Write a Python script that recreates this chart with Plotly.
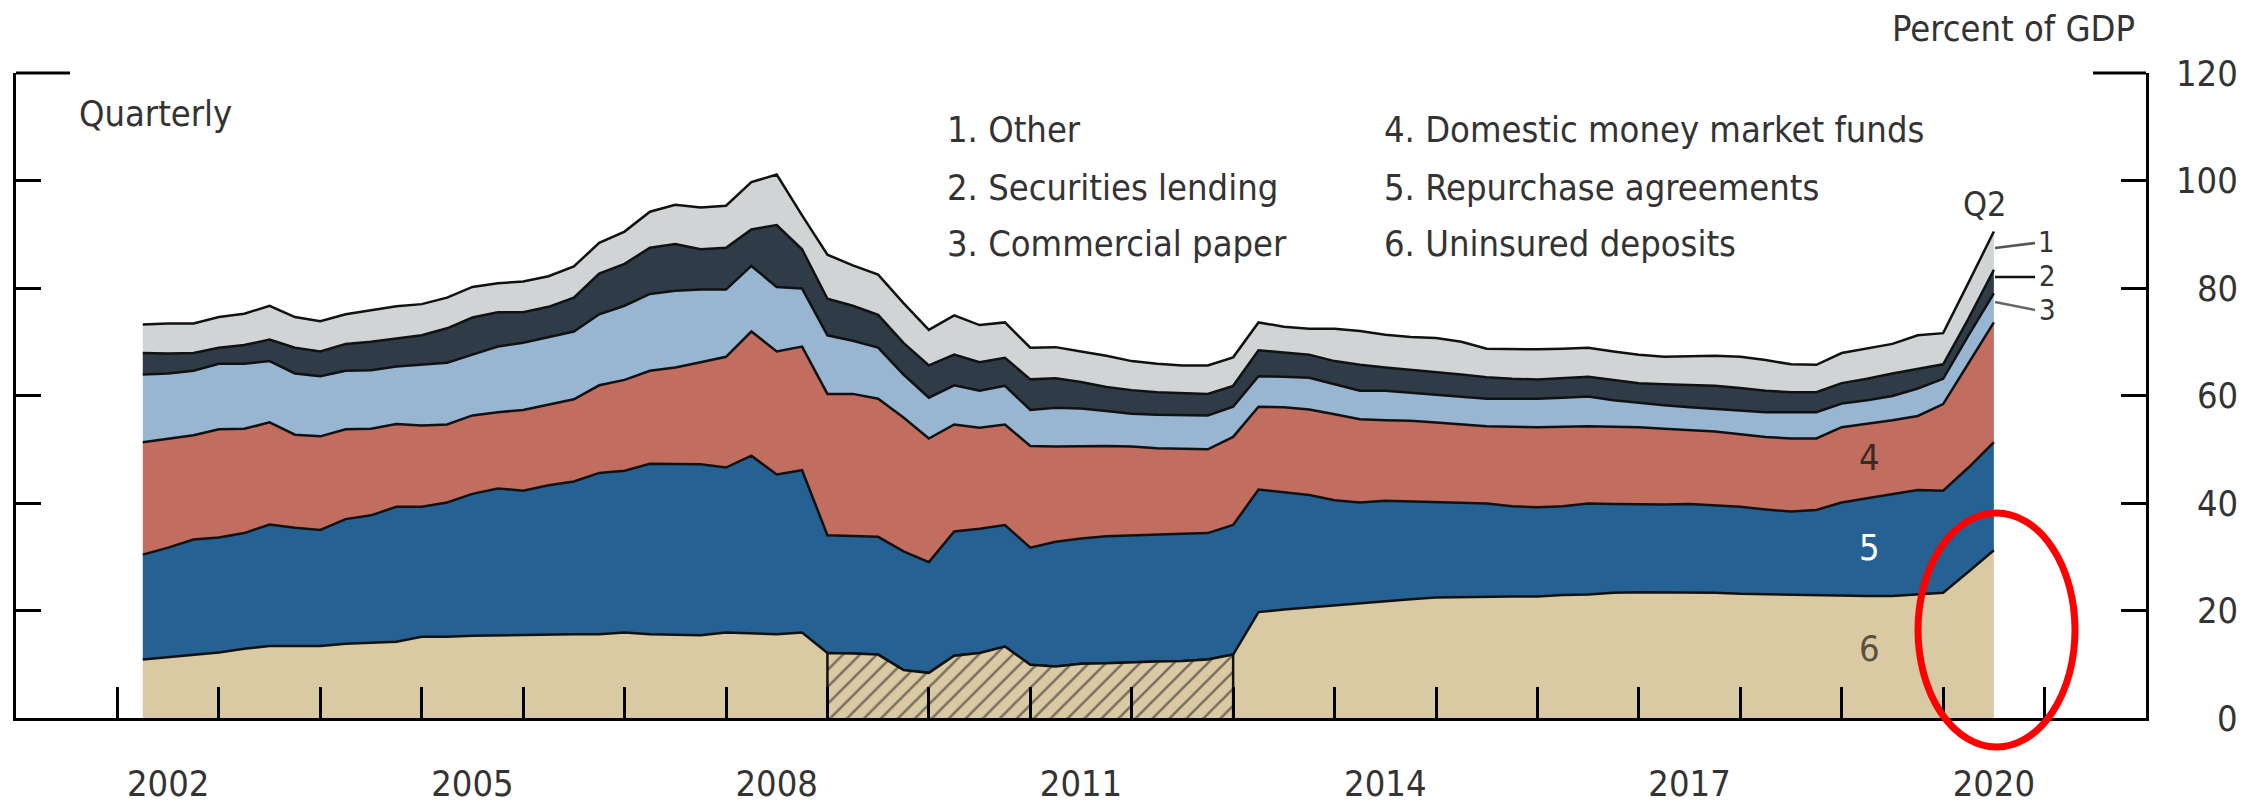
import numpy as np
import plotly.graph_objects as go

# ---------------- data (percent of GDP, quarterly, 2002Q1 - 2020Q2) ----------------
quarters = [f"{y}Q{q}" for y in range(2002, 2021) for q in range(1, 5)][:74]

uninsured_deposits = [10.9, 11.3, 11.8, 12.2, 12.9, 13.4, 13.4, 13.4, 13.8, 14.0, 14.2, 15.1, 15.1, 15.3,
                      15.4, 15.4, 15.5, 15.6, 15.6, 15.9, 15.6, 15.5, 15.4, 15.9, 15.8, 15.6, 15.9, 12.1,
                      12.0, 11.8, 8.9, 8.4, 11.6, 12.1, 13.3, 9.9, 9.6, 10.1, 10.2, 10.4, 10.5, 10.6,
                      10.9, 11.8, 19.7, 20.2, 20.6, 21.0, 21.3, 21.7, 22.1, 22.4, 22.5, 22.5, 22.6, 22.6,
                      22.9, 23.0, 23.3, 23.4, 23.4, 23.4, 23.3, 23.1, 23.0, 22.9, 22.8, 22.7, 22.7, 22.7,
                      23.0, 23.3, 27.2, 31.2]
repurchase_agreements = [19.5, 20.4, 21.4, 21.4, 21.5, 22.6, 22.0, 21.6, 23.2, 23.7, 25.1, 24.2, 25.0, 26.4,
                         27.3, 26.9, 27.8, 28.4, 30.0, 30.1, 31.7, 31.8, 31.8, 30.7, 33.0, 29.7, 30.2, 21.9,
                         21.9, 21.9, 22.1, 20.6, 23.1, 23.1, 22.6, 21.8, 23.2, 23.3, 23.6, 23.6, 23.7, 23.7,
                         23.5, 24.1, 22.8, 21.8, 20.9, 19.5, 18.8, 18.7, 18.2, 17.7, 17.5, 17.4, 16.8, 16.6,
                         16.5, 16.9, 16.5, 16.3, 16.3, 16.4, 16.3, 16.2, 15.8, 15.5, 15.9, 17.4, 18.2, 18.9,
                         19.4, 19.0, 19.4, 20.1]
money_market_funds = [20.9, 20.2, 19.4, 20.1, 19.4, 19.0, 17.3, 17.4, 16.7, 16.1, 15.4, 15.1, 14.5, 14.6,
                      14.2, 15.0, 15.0, 15.3, 16.3, 16.9, 17.3, 17.9, 19.0, 20.6, 23.1, 22.9, 23.0, 26.3,
                      26.4, 25.7, 24.9, 23.0, 19.9, 18.8, 18.7, 18.9, 17.7, 17.2, 16.8, 16.5, 16.0, 15.8,
                      15.6, 16.4, 15.4, 15.8, 15.9, 16.0, 15.5, 15.0, 15.0, 14.9, 14.6, 14.4, 14.8, 14.9,
                      14.8, 14.4, 14.4, 14.4, 14.1, 13.8, 13.7, 13.5, 13.5, 13.6, 13.3, 14.0, 13.8, 13.8,
                      13.8, 16.1, 19.4, 22.3]
commercial_paper = [12.6, 12.2, 12.0, 12.2, 12.1, 11.4, 11.4, 11.2, 10.9, 10.9, 10.7, 11.4, 11.5, 11.3,
                    12.2, 12.5, 12.6, 12.6, 13.2, 13.8, 14.3, 14.3, 13.5, 12.5, 12.2, 12.0, 10.8, 10.9,
                    9.9, 9.5, 8.0, 7.6, 7.3, 6.9, 7.2, 6.7, 7.2, 7.0, 6.5, 6.1, 6.2, 6.2,
                    6.3, 5.6, 5.7, 5.7, 5.9, 5.6, 5.3, 5.5, 5.2, 5.1, 5.1, 5.1, 5.2, 5.3,
                    5.4, 5.5, 4.9, 4.5, 4.4, 4.2, 4.2, 4.3, 4.6, 4.9, 4.9, 4.4, 4.4, 4.5,
                    5.1, 4.7, 5.2, 5.4]
securities_lending = [4.0, 3.7, 3.3, 3.0, 3.5, 4.0, 4.8, 4.6, 5.0, 5.3, 5.2, 5.4, 6.4, 6.9,
                      6.4, 5.7, 5.6, 6.3, 7.6, 7.8, 8.6, 8.7, 7.5, 7.8, 6.8, 11.5, 7.3, 6.8,
                      6.5, 6.1, 5.9, 6.0, 5.7, 5.3, 5.2, 5.7, 5.5, 4.9, 4.5, 4.4, 4.2, 4.1,
                      4.0, 3.9, 4.8, 4.5, 4.3, 4.3, 4.8, 4.3, 4.3, 4.3, 4.2, 4.0, 3.7, 3.6,
                      3.7, 3.7, 3.8, 3.7, 3.9, 4.2, 4.3, 4.3, 4.0, 3.7, 3.7, 3.8, 4.0, 4.2,
                      3.6, 2.7, 3.1, 4.4]
other = [5.3, 5.6, 5.5, 5.7, 5.8, 6.3, 5.7, 5.6, 5.5, 5.9, 6.0, 5.8, 5.7, 5.7,
         5.4, 5.7, 5.7, 5.8, 5.7, 6.0, 6.7, 7.3, 7.8, 7.8, 8.8, 9.4, 6.3, 8.2,
         7.5, 7.5, 7.4, 6.6, 7.3, 6.9, 6.6, 5.9, 5.8, 5.7, 5.8, 5.4, 5.3, 5.2,
         5.3, 5.3, 5.2, 4.8, 4.8, 6.0, 6.3, 6.1, 6.1, 6.3, 6.1, 5.3, 5.5, 5.6,
         5.4, 5.4, 5.3, 5.3, 5.1, 5.3, 5.6, 5.8, 5.7, 5.2, 5.1, 5.6, 5.6, 5.5,
         6.3, 5.8, 6.7, 7.1]

insured_period = ("2008Q4", "2012Q4")   # uninsured deposits shown hatched
year_ticks = list(range(2002, 2022))
year_labels = ["2002", "2005", "2008", "2011", "2014", "2017", "2020"]
y_ticks = [0, 20, 40, 60, 80, 100, 120]

series = [
    ("6. Uninsured deposits", uninsured_deposits, "#DACAA3"),
    ("5. Repurchase agreements", repurchase_agreements, "#256293"),
    ("4. Domestic money market funds", money_market_funds, "#C16D5F"),
    ("3. Commercial paper", commercial_paper, "#98B5D2"),
    ("2. Securities lending", securities_lending, "#2F3C47"),
    ("1. Other", other, "#D1D4D5"),
]

# ---------------- geometry helpers ----------------
W, H = 2265, 806
ML, MR, MT, MB = 16, 119, 73, 88
PW, PH = W - ML - MR, H - MT - MB


def px(x):
    return (x - ML) / PW


def py(y):
    return (H - MB - y) / PH


FONT = "DejaVu Sans Condensed, Liberation Sans Narrow, Liberation Sans, Arial, sans-serif"
TXT = "#333333"
FS = 36

x = np.array([int(q[:4]) + int(q[-1]) / 4 for q in quarters])

fig = go.Figure()
cum = np.zeros(len(x))
for i, (name, vals, color) in enumerate(series):
    cum = cum + np.array(vals)
    fig.add_trace(go.Scatter(
        x=x, y=cum.copy(), mode="lines", name=name,
        line=dict(color="#111111", width=2.5),
        fill="tozeroy" if i == 0 else "tonexty", fillcolor=color,
        showlegend=False, hoverinfo="skip",
    ))

# hatched (temporarily insured) part of uninsured deposits
i0, i1 = quarters.index(insured_period[0]), quarters.index(insured_period[1])
dep = np.array(uninsured_deposits)
hx = np.concatenate([[x[i0]], x[i0:i1 + 1], [x[i1]]])
hy = np.concatenate([[0], dep[i0:i1 + 1], [0]])
fig.add_trace(go.Scatter(
    x=hx, y=hy, mode="lines", fill="toself", fillcolor="#DACAA3",
    fillpattern=dict(shape="/", fgcolor="#1a1a1a", bgcolor="#DACAA3", size=12, solidity=0.22),
    line=dict(color="#111111", width=2.5), showlegend=False, hoverinfo="skip",
))

# invisible trace for the label axis
fig.add_trace(go.Scatter(x=[2001, 2022], y=[0, 0], xaxis="x2", mode="lines",
                         line=dict(width=0), showlegend=False, hoverinfo="skip"))

fig.update_layout(
    width=W, height=H,
    margin=dict(l=ML, r=MR, t=MT, b=MB, autoexpand=False),
    paper_bgcolor="white", plot_bgcolor="white",
    font=dict(family=FONT, size=FS, color=TXT),
    xaxis=dict(range=[2001, 2022], tickvals=year_ticks, showticklabels=False,
               ticks="inside", ticklen=31, tickwidth=2.5, tickcolor="black",
               showline=True, linecolor="black", linewidth=3, automargin=False,
               showgrid=False, zeroline=False),
    xaxis2=dict(range=[2001, 2022], overlaying="x", anchor="y", side="bottom",
                tickvals=[int(t) + 0.5 for t in year_labels], ticktext=year_labels,
                ticks="", showline=False, showgrid=False, zeroline=False, automargin=False,
                tickfont=dict(family=FONT, size=FS, color=TXT), ticklabelstandoff=41),
    yaxis=dict(range=[0, 120], side="right", tickvals=y_ticks, showticklabels=False,
               ticks="inside", ticklen=25, tickwidth=3, tickcolor="black",
               showline=True, linecolor="black", linewidth=3, mirror="ticks",
               automargin=False, showgrid=False, zeroline=False),
)

# right-aligned value labels for the y axis ticks
for v in y_ticks:
    fig.add_annotation(text=str(v), xref="paper", yref="y", x=px(2240), y=v,
                       xanchor="right", yanchor="middle", showarrow=False,
                       font=dict(family=FONT, size=FS, color=TXT))

# longer corner ticks at 120
for x0, x1 in [(px(16), px(70)), (px(2093), px(2146))]:
    fig.add_shape(type="line", xref="paper", yref="paper", x0=x0, x1=x1, y0=1, y1=1,
                  line=dict(color="black", width=3))

# leader lines for small series
for (xa, ya, xb, yb, c) in [(1995, 248, 2035, 243, "#555555"),
                            (1995, 277, 2035, 277, "#111111"),
                            (1995, 302, 2035, 310, "#666666")]:
    fig.add_shape(type="line", xref="paper", yref="paper", x0=px(xa), y0=py(ya), x1=px(xb), y1=py(yb),
                  line=dict(color=c, width=2.5))

# red highlight ellipse
fig.add_shape(type="circle", xref="paper", yref="paper", x0=px(1918), x1=px(2075),
              y0=py(747), y1=py(513), line=dict(color="#FF0000", width=7))


def note(text, xx, yy, anchor="left", color=TXT, size=FS):
    fig.add_annotation(text=text, xref="paper", yref="paper", x=px(xx), y=py(yy),
                       xanchor=anchor, yanchor="middle", showarrow=False,
                       font=dict(family=FONT, size=size, color=color))


note("Quarterly", 77, 114)
note("Percent of GDP", 2137, 28, anchor="right")
legend_pos = [(945, 130), (945, 187), (945, 243), (1382, 130), (1382, 187), (1382, 243)]
for (name, _, _), (lx, ly) in zip(series[::-1], legend_pos):
    note(name, lx, ly)
note("Q2", 1985, 204, anchor="center", size=34)
note("1", 2046, 242, anchor="center", size=29)
note("2", 2047, 276, anchor="center", size=29)
note("3", 2047, 310, anchor="center", size=29)
note("4", 1869, 458, anchor="center", color="#3a2a25")
note("5", 1869, 547, anchor="center", color="#ffffff")
note("6", 1869, 648, anchor="center", color="#5a5040")

fig.write_html("out.html", config={"displayModeBar": False},
               post_script="document.body.style.margin='0';document.body.style.overflow='hidden';")
